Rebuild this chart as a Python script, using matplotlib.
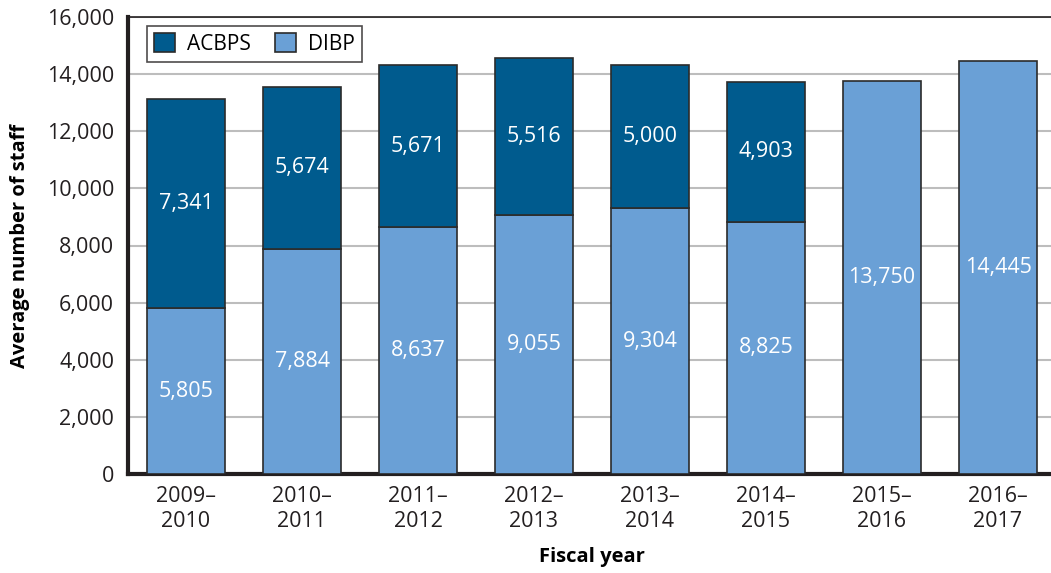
import matplotlib.pyplot as plt
import numpy as np

years = ['2009–\n2010', '2010–\n2011', '2011–\n2012', '2012–\n2013',
         '2013–\n2014', '2014–\n2015', '2015–\n2016', '2016–\n2017']
dibp = [5805, 7884, 8637, 9055, 9304, 8825, 13750, 14445]
acbps = [7341, 5674, 5671, 5516, 5000, 4903, 0, 0]

plt.rcParams['font.family'] = ['Open Sans', 'DejaVu Sans']

fig = plt.figure(figsize=(10.51, 5.73), dpi=100)
ax = fig.add_axes([128 / 1051, 1 - 474 / 573, (1056 - 128) / 1051, (474 - 17) / 573])

x = np.arange(len(years))
w = 0.665
dark = '#005b8e'
light = '#6aa0d6'
edge = '#2b2b2b'

b1 = ax.bar(x, dibp, w, color=light, edgecolor=edge, linewidth=1.2, label='DIBP', zorder=3)
b2 = ax.bar(x[:6], acbps[:6], w, bottom=dibp[:6], color=dark, edgecolor=edge,
            linewidth=1.2, label='ACBPS', zorder=3)

for i in range(len(years)):
    ax.text(x[i], dibp[i] / 2, f'{dibp[i]:,}', ha='center', va='center',
            color='white', fontsize=15.5, zorder=4)
    if acbps[i]:
        ax.text(x[i], dibp[i] + acbps[i] / 2, f'{acbps[i]:,}', ha='center',
                va='center', color='white', fontsize=15.5, zorder=4)

ax.set_xlim(-0.5, 7.5)
ax.set_ylim(0, 16000)
ax.set_yticks(range(0, 16001, 2000))
ax.set_yticklabels([f'{v:,}' for v in range(0, 16001, 2000)])
ax.set_xticks(x)
ax.set_xticklabels(years)
ax.tick_params(axis='both', length=0, labelsize=15.5, colors='#231f20', pad=10)
ax.tick_params(axis='x', pad=9)
ax.yaxis.grid(True, color='#bdbdbd', linewidth=1.5, zorder=0)
ax.set_axisbelow(True)

ax.spines['right'].set_visible(False)
ax.spines['top'].set_linewidth(1.2)
ax.spines['top'].set_color('#231f20')
ax.spines['left'].set_linewidth(3)
ax.spines['left'].set_color('#231f20')
ax.spines['bottom'].set_linewidth(3)
ax.spines['bottom'].set_color('#231f20')

ax.set_ylabel('Average number of staff', fontsize=14.5, fontweight='bold', labelpad=12)
ax.set_xlabel('Fiscal year', fontsize=14.5, fontweight='bold', labelpad=11)

leg = ax.legend(handles=[b2, b1], loc='upper left', ncol=2, fontsize=15,
                frameon=True, fancybox=False, edgecolor='#231f20',
                bbox_to_anchor=(0.0205, 0.98), borderaxespad=0,
                handlelength=1.0, handleheight=1.0,
                columnspacing=1.2, borderpad=0.35, handletextpad=0.55)
leg.get_frame().set_linewidth(1.2)

fig.savefig('out.png', dpi=100)
